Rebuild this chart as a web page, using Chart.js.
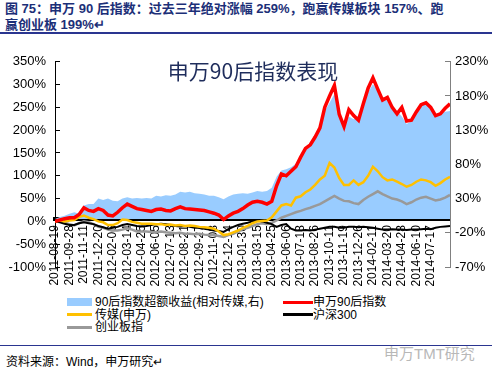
<!DOCTYPE html>
<html lang="zh">
<head>
<meta charset="UTF-8">
<title>申万90后指数表现</title>
<script src="https://cdn.jsdelivr.net/npm/chart.js"></script>
<style>
  body {
    margin: 0;
    width: 492px;
    height: 370px;
    background: #fff;
    position: relative;
    overflow: hidden;
    font-family: "Liberation Sans", Arial, "Noto Sans CJK SC", sans-serif;
  }
  .title {
    position: absolute;
    left: 5px;
    top: 1px;
    width: 486px;
    font-size: 13px;
    font-weight: bold;
    line-height: 16px;
    color: #1c2f78;
  }
  .rule {
    position: absolute;
    left: 0;
    width: 492px;
    background: #2a3590;
  }
  #wrap {
    position: absolute;
    left: 0;
    top: 40px;
    width: 492px;
    height: 250px;
  }
  .lg-text {
    position: absolute;
    font-size: 12px;
    line-height: 14px;
    color: #000;
    white-space: nowrap;
  }
  .lg-mark { position: absolute; }
  .source {
    position: absolute;
    left: 6px;
    top: 352px;
    font-size: 12px;
    color: #000;
  }
  .mark {
    position: absolute;
    left: 384px;
    top: 342px;
    font-size: 15px;
    color: #b8b8b8;
  }
</style>
</head>
<body>
  <div class="title">图 75：申万 90 后指数：过去三年绝对涨幅 259%，跑赢传媒板块 157%、跑<br>赢创业板 199%↵</div>
  <div class="rule" style="top:32px;height:2px;"></div>

  <div id="wrap"><canvas id="chart"></canvas></div>
  <div id="legend"></div>

  <div class="rule" style="top:345px;height:1px;"></div>
  <div class="mark">申万TMT研究</div>
  <div class="source">资料来源：Wind，申万研究↵</div>

<script>
// x tick labels, one every 3 points
const tickLabels = [
  "2011-08-19", "2011-09-28", "2011-11-11", "2011-12-20", "2012-02-06", "2012-03-14",
  "2012-04-25", "2012-06-05", "2012-07-13", "2012-08-21", "2012-09-27", "2012-11-08",
  "2012-12-14", "2013-01-30", "2013-03-15", "2013-04-25", "2013-06-06", "2013-07-18",
  "2013-08-26", "2013-10-11", "2013-11-19", "2013-12-26", "2014-02-11", "2014-03-20",
  "2014-04-28", "2014-06-10", "2014-07-17"
];
const pointsPerTick = 3;

const seriesNames = ["90后指数超额收益(相对传媒,右)", "申万90后指数", "传媒(申万)", "沪深300", "创业板指"];

// right axis, %
const excessRet = [0, 3, 5, 8, 10, 8, 20, 22, 22, 30,
  28, 30, 27, 26, 30, 32, 30, 31, 30, 31,
  30, 34, 33, 35, 34, 36, 40, 39, 40, 38,
  37, 36, 34, 34, 32, 29, 33, 36, 37, 38,
  37, 39, 41, 40, 41, 46, 62, 71, 73, 76,
  81, 91, 100, 108, 118, 130, 158, 170, 183, 155,
  135, 150, 146, 152, 170, 186, 197, 188, 178, 173,
  160, 158, 150, 139, 143, 155, 166, 168, 164, 151,
  154, 157, 158];

// left axis, %
const swIndex = [0, 3, 6, 8, 8, 15, 30, 24, 22, 28,
  24, 14, 12, 20, 30, 38, 33, 28, 26, 24,
  22, 26, 27, 24, 23, 28, 32, 28, 27, 26,
  25, 24, 21, 18, 14, 4, 12, 18, 22, 28,
  36, 42, 44, 42, 38, 44, 78, 104, 100, 110,
  120, 141, 160, 168, 185, 205, 250, 275, 298, 235,
  208, 245, 232, 222, 258, 292, 315, 290, 266, 272,
  250, 236, 250, 220, 222, 240, 256, 260, 250, 232,
  236, 248, 258];

const media = [0, 2, 0, 2, 3, 10, 13, 8, 5, 0,
  -2, -8, -8, -4, 4, 3, -1, -3, -5, -5,
  -5, -6, -6, -8, -7, -9, -8, -10, -9, -10,
  -12, -13, -14, -16, -22, -30, -28, -24, -20, -14,
  -10, -4, 0, 1, 2, 9, 22, 35, 38, 35,
  52, 55, 64, 70, 80, 92, 100, 128, 118, 95,
  80, 80, 90, 80, 86, 100, 120, 110, 97, 90,
  92, 87, 82, 76, 80, 87, 92, 90, 86, 78,
  84, 92, 98];

const hs300 = [0, -2, -5, -8, -8, -4, -2, -4, -6, -10,
  -13, -16, -14, -12, -8, -6, -8, -10, -11, -10,
  -8, -6, -5, -6, -8, -10, -11, -10, -12, -14,
  -14, -16, -18, -20, -21, -23, -17, -12, -8, -5,
  -3, 0, 2, 0, -3, -6, -12, -8, -6, -16,
  -20, -20, -19, -20, -18, -16, -14, -12, -12, -14,
  -14, -12, -12, -13, -12, -13, -14, -16, -18, -18,
  -17, -18, -18, -19, -18, -18, -17, -16, -17, -14,
  -12, -11, -10];

const gem = [0, 0, -3, -6, -9, -4, 0, -2, -6, -12,
  -14, -18, -20, -20, -18, -15, -18, -22, -22, -22,
  -23, -24, -22, -24, -25, -26, -25, -27, -27, -28,
  -27, -29, -30, -30, -32, -34, -30, -27, -22, -17,
  -14, -10, -6, -4, -6, -3, 2, 8, 12, 16,
  20, 23, 27, 30, 34, 38, 44, 50, 56, 50,
  45, 44, 40, 38, 47, 54, 60, 66, 60, 55,
  50, 48, 44, 38, 42, 48, 52, 54, 50, 46,
  48, 52, 58];

const colors = ["#99ccff", "#ff0000", "#ffc000", "#000000", "#999999"];

function pts(arr) {
  return arr.map((v, i) => ({ x: i, y: v }));
}

// chart title drawn inside the plot
const innerTitle = {
  id: "innerTitle",
  afterDatasetsDraw(chart) {
    const ctx = chart.ctx;
    ctx.save();
    ctx.font = '21px "Noto Sans CJK SC"';
    ctx.fillStyle = "#1f2d5c";
    ctx.textAlign = "center";
    ctx.textBaseline = "middle";
    ctx.fillText("申万90后指数表现", 253, 31);
    ctx.restore();
  }
};

new Chart(document.getElementById("chart"), {
  type: "line",
  data: {
    datasets: [
      { label: seriesNames[1], data: pts(swIndex), yAxisID: "y", borderColor: colors[1], borderWidth: 3.5, order: 1 },
      { label: seriesNames[2], data: pts(media), yAxisID: "y", borderColor: colors[2], borderWidth: 2.5, order: 2 },
      { label: seriesNames[3], data: pts(hs300), yAxisID: "y", borderColor: colors[3], borderWidth: 2, order: 3 },
      { label: seriesNames[4], data: pts(gem), yAxisID: "y", borderColor: colors[4], borderWidth: 2.5, order: 4 },
      { label: seriesNames[0], data: pts(excessRet), yAxisID: "y1", borderWidth: 0,
        backgroundColor: colors[0], fill: "origin", order: 5 }
    ]
  },
  options: {
    responsive: true,
    maintainAspectRatio: false,
    animation: false,
    layout: { padding: { top: 7, bottom: 23, left: 0, right: 0 } },
    elements: { point: { radius: 0 }, line: { tension: 0 } },
    plugins: { legend: { display: false }, tooltip: { enabled: false } },
    scales: {
      x: {
        type: "linear",
        min: 0,
        max: excessRet.length - 1,
        position: { y1: 0 },
        grid: { drawOnChartArea: false, drawTicks: false },
        border: { color: "#000", width: 4 },
        ticks: {
          stepSize: pointsPerTick,
          autoSkip: false,
          maxRotation: 90,
          minRotation: 90,
          padding: 6,
          color: "#000",
          font: { family: "Liberation Sans", size: 12 },
          callback: (v) => (v % pointsPerTick === 0 && tickLabels[v / pointsPerTick]) || null
        }
      },
      y: {
        position: "left",
        min: -100,
        max: 350,
        afterFit: (s) => { s.width = 55; },
        grid: { drawOnChartArea: false, tickLength: -5, color: "#000" },
        border: { color: "#000", width: 1 },
        ticks: {
          stepSize: 50,
          padding: 14,
          color: "#000",
          font: { family: "Liberation Sans", size: 13 },
          callback: (v) => v + "%"
        }
      },
      y1: {
        position: "right",
        min: -70,
        max: 230,
        afterFit: (s) => { s.width = 42; },
        grid: { drawOnChartArea: false, tickLength: -5, color: "#808080" },
        border: { color: "#808080", width: 1 },
        ticks: {
          stepSize: 50,
          padding: 10,
          color: "#000",
          font: { family: "Liberation Sans", size: 13 },
          callback: (v) => v + "%"
        }
      }
    }
  },
  plugins: [innerTitle]
});

// legend, two columns
const legendSlots = [
  { name: 0, col: 0, row: 0, box: true },
  { name: 1, col: 1, row: 0 },
  { name: 2, col: 0, row: 1 },
  { name: 3, col: 1, row: 1 },
  { name: 4, col: 0, row: 2 }
];
const legend = document.getElementById("legend");
legendSlots.forEach((s) => {
  const left = s.col === 0 ? 67 : 283;
  const cy = 302 + s.row * 12.5;
  const mark = document.createElement("div");
  mark.className = "lg-mark";
  mark.style.left = left + "px";
  mark.style.width = (s.col === 0 ? 25 : 30) + "px";
  mark.style.background = colors[s.name];
  if (s.box) {
    mark.style.top = (cy - 4) + "px";
    mark.style.height = "8px";
  } else {
    mark.style.top = (cy - 1.5) + "px";
    mark.style.height = "3px";
  }
  legend.appendChild(mark);
  const t = document.createElement("div");
  t.className = "lg-text";
  t.style.left = (s.col === 0 ? 95 : 313) + "px";
  t.style.top = (cy - 7) + "px";
  t.textContent = seriesNames[s.name];
  legend.appendChild(t);
});
</script>
</body>
</html>
